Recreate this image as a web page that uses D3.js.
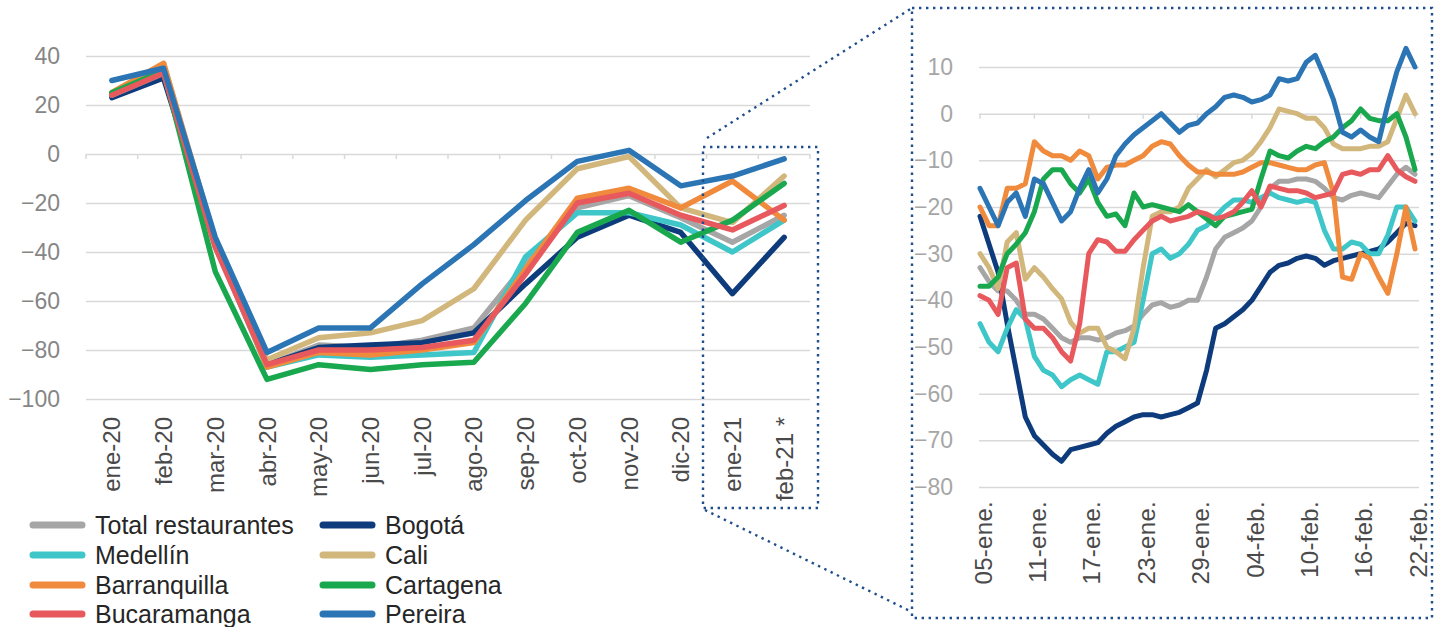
<!DOCTYPE html>
<html>
<head>
<meta charset="utf-8">
<script src="https://cdn.jsdelivr.net/npm/d3@7/dist/d3.min.js"></script>
<style>
  body { margin: 0; background: #fff; }
  svg { display: block; font-family: "Liberation Sans", Arial, sans-serif; }
</style>
</head>
<body>
<svg id="chart" width="1435" height="627"></svg>
<script>
// monthly panel
var months = ['ene-20','feb-20','mar-20','abr-20','may-20','jun-20','jul-20','ago-20','sep-20','oct-20','nov-20','dic-20','ene-21','feb-21 *'];
var monthlyTotal        = [25, 33, -38, -86, -78, -79, -76, -71, -45, -22, -17, -26, -36, -25];
var monthlyBogota       = [23, 31, -36, -86, -79, -78, -77, -73, -53, -34, -25, -32, -57, -34];
var monthlyMedellin     = [24, 33, -37, -87, -82, -83, -82, -81, -42, -24, -24, -29, -40, -27];
var monthlyCali         = [25, 37, -35, -84, -75, -73, -68, -55, -27, -6, -1, -22, -28, -9];
var monthlyBarranquilla = [25, 37, -36, -87, -81, -82, -80, -77, -47, -18, -14, -22, -11, -27];
var monthlyCartagena    = [25, 34, -48, -92, -86, -88, -86, -85, -61, -32, -23, -36, -27, -12];
var monthlyBucaramanga  = [24, 33, -38, -86, -80, -80, -79, -76, -49, -20, -16, -25, -31, -21];
var monthlyPereira      = [30, 35, -34, -81, -71, -71, -53, -37, -19, -3, 1.5, -13, -9, -2];
var monthlyTicks = [40, 20, 0, -20, -40, -60, -80, -100];

// daily panel, 05-ene to 22-feb 2021
var days = d3.timeDay.range(new Date(2021, 0, 5), new Date(2021, 1, 23));
var dayTickLabels = ['05-ene.','11-ene.','17-ene.','23-ene.','29-ene.','04-feb.','10-feb.','16-feb.','22-feb.'];
var dailyTicks = [10, 0, -10, -20, -30, -40, -50, -60, -70, -80];
var dailyTotal = [-33,-36,-38,-38,-40,-43,-43,-44,-46,-48, -49,-48,-48,-48.5,-48,-47,-46.5,-45.5,-43,-41,
  -40.5,-41.5,-41,-40,-40,-35,-29,-26.5,-25.5,-24.5, -23,-20,-16,-14.5,-14.5,-14,-14,-14.5,-16,-18,
  -18.5,-17.5,-17,-17.5,-18,-15.5,-13,-11.5,-13];
var dailyBogota = [-22,-28,-34,-45,-55,-65,-69,-71,-73,-74.5, -72,-71.5,-71,-70.5,-68.5,-67,-66,-65,-64.5,-64.5,
  -65,-64.5,-64,-63,-62,-55,-46,-45,-43.5,-42, -40,-37,-34,-32.5,-32,-31,-30.5,-31,-32.5,-31.5,
  -31,-30.5,-30,-29.5,-29,-27.5,-25.5,-23.5,-24];
var dailyMedellin = [-45,-49,-51,-46,-42,-44,-52,-55,-56,-58.5, -57,-56,-57,-58,-51,-51,-50,-49,-40,-30,
  -29,-31,-30,-28,-25,-24,-22,-20,-18.5,-18.5, -19,-18,-17,-18,-18.5,-19,-18.5,-19,-25,-29,
  -29,-27.5,-28,-30,-30,-26,-20,-20,-23];
var dailyCali = [-30,-33,-37.5,-27.5,-25.5,-35.5,-33,-35,-37.5,-39.7, -44.7,-47,-46,-46,-50,-51,-52.5,-46,-33,-22,
  -21,-21,-20,-16,-14,-12,-13.5,-12,-10.5,-10, -8.5,-6,-3,1,0.5,0,-1,-1,-3,-6.5,
  -7.5,-7.5,-7.5,-7,-7,-6,-1,4,0];
var dailyBarranquilla = [-20,-24,-24,-16,-16,-15,-6,-8,-9,-9, -10,-8,-9,-14,-11.5,-11,-11,-10,-9,-7,
  -6,-6.5,-9,-11,-12.5,-12.5,-13,-13,-13,-12.5, -11.5,-10.5,-10.5,-11,-11.5,-12,-12,-11,-10.5,-17,
  -35,-35.5,-30,-31,-35,-38.5,-30,-20,-29];
var dailyCartagena = [-37,-37,-35,-30,-28,-25.5,-21,-14,-12,-12, -15,-17,-14,-19,-22,-21.5,-24,-17,-20,-19.5,
  -20,-20.5,-21,-19.5,-21,-22.5,-24,-22,-21.5,-21, -20.5,-14,-8,-9,-9.5,-8,-7,-7.5,-6,-5,
  -3,-1.5,1,-1,-1.5,-1.5,0,-5,-12];
var dailyBucaramanga = [-39,-40,-43,-33,-32,-44,-46,-46,-48,-51, -53,-45,-30,-27,-27.5,-29.5,-29.5,-27,-25,-23,
  -22,-23,-22.5,-22,-21,-21.5,-22.5,-22,-21,-19, -16.5,-20,-15.5,-16,-16.5,-16.5,-17,-18,-17.5,-17,
  -13,-12.5,-13,-12,-12,-9,-12,-13.5,-14.5];
var dailyPereira = [-16,-20,-24,-19,-17,-22,-14,-15,-19,-23, -21,-16,-12,-17,-14,-9,-6.5,-4.5,-3,-1.5,
  0,-2,-4,-2.5,-2,0,1.5,3.5,4,3.5, 2.5,3,4,7.5,7,7.5,11,12.5,8,3,
  -4,-5,-3.5,-5,-6,2,9,14,10];

var seriesNames  = ['Total restaurantes','Bogotá','Medellín','Cali','Barranquilla','Cartagena','Bucaramanga','Pereira'];
var seriesColors = ['#a6a6a6','#0d3b7b','#3ec6c8','#d2b77d','#f08a3d','#1aa84f','#e8595e','#2b75b5'];
var monthlyValues = [monthlyTotal, monthlyBogota, monthlyMedellin, monthlyCali, monthlyBarranquilla, monthlyCartagena, monthlyBucaramanga, monthlyPereira];
var dailyValues = [dailyTotal, dailyBogota, dailyMedellin, dailyCali, dailyBarranquilla, dailyCartagena, dailyBucaramanga, dailyPereira];

var series = seriesNames.map(function(name, i) {
  return { name: name, color: seriesColors[i], monthly: monthlyValues[i], daily: dailyValues[i] };
});

var svg = d3.select('#chart');
var gridColor = '#d9d9d9';
var boxColor = '#1f4e8c';

// ---------- left (monthly) panel
var x = d3.scaleBand().domain(months).range([86, 810]);
var y = d3.scaleLinear().domain([-100, 40]).range([399, 56]);

var left = svg.append('g').attr('class', 'monthly');

left.append('g')
  .attr('transform', 'translate(86,0)')
  .call(d3.axisLeft(y).tickValues(monthlyTicks).tickSize(-(810 - 86)).tickPadding(26).tickFormat(d3.format('d')))
  .call(function(g) {
    g.select('.domain').remove();
    g.selectAll('.tick line').attr('stroke', gridColor).attr('stroke-width', 1.5);
    g.selectAll('.tick text').attr('fill', '#868686').style('font-size', '23px').attr('font-family', null);
  });

// ticks on the zero line at category boundaries
var bounds = months.map(function(m) { return x(m); }).concat([x.range()[1]]);
left.append('g').selectAll('line').data(bounds).enter().append('line')
  .attr('x1', function(d) { return d; }).attr('x2', function(d) { return d; })
  .attr('y1', y(0)).attr('y2', y(0) + 5)
  .attr('stroke', gridColor).attr('stroke-width', 1.5);

left.append('g').selectAll('text').data(months).enter().append('text')
  .attr('transform', function(d) { return 'translate(' + (x(d) + x.bandwidth() / 2) + ',417) rotate(-90)'; })
  .attr('text-anchor', 'end')
  .attr('dy', '0.36em')
  .attr('fill', '#4a4a4a')
  .style('font-size', '24px')
  .text(function(d) { return d; });

var lineM = d3.line()
  .x(function(d, i) { return x(months[i]) + x.bandwidth() / 2; })
  .y(function(d) { return y(d); });

left.append('g').selectAll('path').data(series).enter().append('path')
  .attr('d', function(s) { return lineM(s.monthly); })
  .attr('fill', 'none')
  .attr('stroke', function(s) { return s.color; })
  .attr('stroke-width', 5.5)
  .attr('stroke-linejoin', 'round')
  .attr('stroke-linecap', 'round');

// ---------- right (daily) panel
var xd = d3.scaleTime().domain([days[0], days[days.length - 1]]).range([980, 1415]);
var yd = d3.scaleLinear().domain([-80, 10]).range([487, 67]);

var right = svg.append('g').attr('class', 'daily');

right.append('g')
  .attr('transform', 'translate(979,0)')
  .call(d3.axisLeft(yd).tickValues(dailyTicks).tickSize(-(1419 - 979)).tickPadding(26).tickFormat(d3.format('d')))
  .call(function(g) {
    g.select('.domain').remove();
    g.selectAll('.tick line').attr('stroke', gridColor).attr('stroke-width', 1.5);
    g.selectAll('.tick text').attr('fill', '#a6a6a6').style('font-size', '23px').attr('font-family', null);
  });

var tickDays = days.filter(function(d, i) { return i % 6 === 0; });
right.append('g').selectAll('line').data(tickDays).enter().append('line')
  .attr('x1', function(d) { return xd(d); }).attr('x2', function(d) { return xd(d); })
  .attr('y1', yd(0)).attr('y2', yd(0) + 5)
  .attr('stroke', gridColor).attr('stroke-width', 1.5);

right.append('g').selectAll('text').data(tickDays).enter().append('text')
  .attr('transform', function(d) { return 'translate(' + (xd(d) + 3) + ',501) rotate(-90)'; })
  .attr('text-anchor', 'end')
  .attr('dy', '0.36em')
  .attr('fill', '#4a4a4a')
  .style('font-size', '24px')
  .style('letter-spacing', '0.3px')
  .text(function(d, i) { return dayTickLabels[i]; });

var lineD = d3.line()
  .x(function(d, i) { return xd(days[i]); })
  .y(function(d) { return yd(d); });

right.append('g').selectAll('path').data(series).enter().append('path')
  .attr('d', function(s) { return lineD(s.daily); })
  .attr('fill', 'none')
  .attr('stroke', function(s) { return s.color; })
  .attr('stroke-width', 5)
  .attr('stroke-linejoin', 'round')
  .attr('stroke-linecap', 'round');

// ---------- zoom boxes and connectors (dotted)
var zoomBox = { x0: 703, y0: 147, x1: 818, y1: 508 };
var detailBox = { x0: 912, y0: 8, x1: 1432, y1: 618 };
var dots = svg.append('g')
  .attr('fill', 'none')
  .attr('stroke', boxColor)
  .attr('stroke-width', 2.4)
  .attr('stroke-dasharray', '2.4,4.6');

dots.append('rect')
  .attr('x', zoomBox.x0).attr('y', zoomBox.y0)
  .attr('width', zoomBox.x1 - zoomBox.x0).attr('height', zoomBox.y1 - zoomBox.y0);
dots.append('rect')
  .attr('x', detailBox.x0).attr('y', detailBox.y0)
  .attr('width', detailBox.x1 - detailBox.x0).attr('height', detailBox.y1 - detailBox.y0);
dots.append('line')
  .attr('x1', zoomBox.x0 + 4).attr('y1', zoomBox.y0 - 9)
  .attr('x2', detailBox.x0).attr('y2', detailBox.y0);
dots.append('line')
  .attr('x1', zoomBox.x0 + 2).attr('y1', zoomBox.y1 + 2)
  .attr('x2', detailBox.x0).attr('y2', detailBox.y1 - 6);

// ---------- legend
var legendCols = [30, 320];
var legendRows = [525, 555, 585, 614];
var legendOrder = [0, 2, 4, 6, 1, 3, 5, 7]; // column-wise like the original

var legend = svg.append('g').attr('class', 'legend');
var items = legend.selectAll('g').data(legendOrder).enter().append('g')
  .attr('transform', function(d, k) {
    return 'translate(' + legendCols[Math.floor(k / 4)] + ',' + legendRows[k % 4] + ')';
  });
items.append('line')
  .attr('x1', 3).attr('x2', 52).attr('y1', 0).attr('y2', 0)
  .attr('stroke', function(d) { return series[d].color; })
  .attr('stroke-width', 7)
  .attr('stroke-linecap', 'round');
items.append('text')
  .attr('x', 65).attr('dy', '0.36em')
  .attr('fill', '#262626')
  .style('font-size', '25px')
  .text(function(d) { return series[d].name; });
</script>
</body>
</html>
